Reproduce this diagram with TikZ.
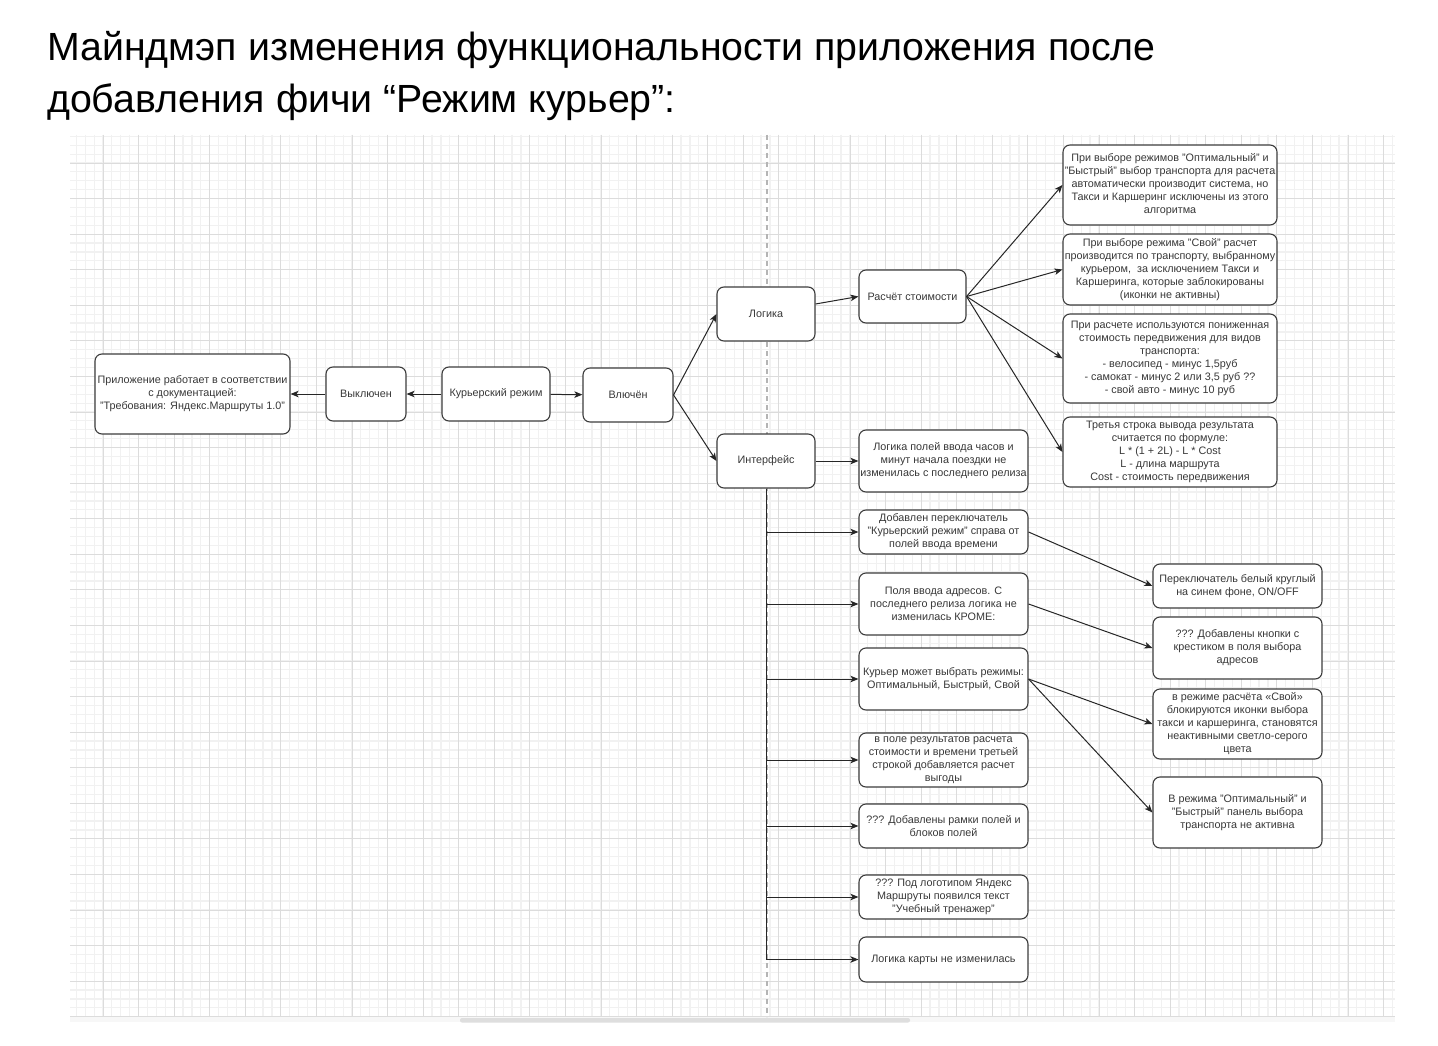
\documentclass[tikz,border=0pt]{standalone}
\usepackage{fontspec}
\setmainfont{Liberation Sans}
\usetikzlibrary{arrows.meta}
\definecolor{gridmajor}{HTML}{DCDCDC}
\definecolor{gridminor}{HTML}{F1F1F1}
\definecolor{boxline}{HTML}{3C3C3C}
\definecolor{boxtext}{HTML}{383838}
\definecolor{dashgray}{HTML}{B4B4B4}
\definecolor{barback}{HTML}{F7F7F7}
\definecolor{bar}{HTML}{DEDEDE}
\begin{document}
\begin{tikzpicture}[x=1pt,y=-1pt,
  box/.style={draw=boxline, line width=1.1pt, rounded corners=7pt, fill=white,
    align=center, inner sep=0pt, text=boxtext,
    font=\fontsize{10.8}{13}\selectfont},
  link/.style={draw=black!85, line width=1pt, -{Stealth[length=8pt,width=6.5pt,inset=2pt]}},
  trunk/.style={draw=black!85, line width=1pt}]

\useasboundingbox (0,0) rectangle (1438,1046);
\fill[white] (0,0) rectangle (1438,1046);

% title
\node[anchor=base west, inner sep=0pt, font=\fontsize{39.3}{46}\selectfont] (title1) at (47,61)
  {Майндмэп изменения функциональности приложения после};
\node[anchor=base west, inner sep=0pt, font=\fontsize{39.3}{46}\selectfont] (title2) at (47,113)
  {добавления фичи “Режим курьер”:};

% grid paper
\fill[barback] (70,1017) rectangle (1395,1022);
\begin{scope}
  \clip (70,135) rectangle (1395,1017);
  \foreach \i in {0,...,150} {
    \draw[gridminor, line width=1.2pt] ({67.43+\i*8.8925},135) -- ({67.43+\i*8.8925},1017);
  }
  \foreach \i in {0,...,101} {
    \draw[gridminor, line width=1.2pt] (70,{127.43+\i*8.8925}) -- (1395,{127.43+\i*8.8925});
  }
  \foreach \i in {0,...,38} {
    \draw[gridmajor, line width=0.9pt] ({67.43+\i*35.57},135) -- ({67.43+\i*35.57},1017);
  }
  \foreach \i in {0,...,26} {
    \draw[gridmajor, line width=0.9pt] (70,{127.43+\i*35.57}) -- (1395,{127.43+\i*35.57});
  }
\end{scope}
\fill[bar, rounded corners=2pt] (460,1018) rectangle (910,1022.5);

% page divider
\draw[dashgray, line width=1.1pt, dash pattern=on 5pt off 4pt] (767,135) -- (767,1017);

% main chain
\node[box, minimum width=195pt, minimum height=80pt] (app) at (192.5,394)
  {Приложение работает в соответствии\\ с документацией:\\ "Требования: Яндекс.Маршруты 1.0"};
\node[box, minimum width=80pt, minimum height=54pt] (off) at (366,394) {Выключен};
\node[box, minimum width=108pt, minimum height=54pt] (courier) at (496,394) {Курьерский режим};
\node[box, minimum width=90pt, minimum height=54pt] (on) at (628,395) {Влючён};
\node[box, minimum width=98pt, minimum height=54pt] (logic) at (766,314) {Логика};
\node[box, minimum width=98pt, minimum height=54pt] (ui) at (766,461) {Интерфейс};
\node[box, minimum width=107pt, minimum height=53pt] (calc) at (912.5,296.5) {Расчёт стоимости};
\node[box, minimum width=169pt, minimum height=62pt] (hours) at (943.5,461)
  {Логика полей ввода часов и\\ минут начала поездки не\\ изменилась с последнего релиза};

% cost calculation notes
\node[box, minimum width=214pt, minimum height=80pt] (r1) at (1170,185)
  {При выборе режимов "Оптимальный" и\\ "Быстрый" выбор транспорта для расчета\\ автоматически производит система, но\\ Такси и Каршеринг исключены из этого\\ алгоритма};
\node[box, minimum width=214pt, minimum height=71pt] (r2) at (1170,269.5)
  {При выборе режима "Свой" расчет\\ производится по транспорту, выбранному\\ курьером,\ \ за исключением Такси и\\ Каршеринга, которые заблокированы\\ (иконки не активны)};
\node[box, minimum width=214pt, minimum height=89pt] (r3) at (1170,358.5)
  {При расчете используются пониженная\\ стоимость передвижения для видов\\ транспорта:\\ - велосипед - минус 1,5руб\\ - самокат - минус 2 или 3,5 руб ??\\ - свой авто - минус 10 руб};
\node[box, minimum width=214pt, minimum height=70pt] (r4) at (1170,452)
  {Третья строка вывода результата\\ считается по формуле:\\ L * (1 + 2L) - L * Cost\\ L - длина маршрута\\ Cost - стоимость передвижения};

% interface notes
\node[box, minimum width=169pt, minimum height=44pt] (i1) at (943.5,532)
  {Добавлен переключатель\\ "Курьерский режим" справа от\\ полей ввода времени};
\node[box, minimum width=169pt, minimum height=62pt] (i2) at (943.5,604)
  {Поля ввода адресов. С\\ последнего релиза логика не\\ изменилась КРОМЕ:};
\node[box, minimum width=169pt, minimum height=62pt] (i3) at (943.5,679)
  {Курьер может выбрать режимы:\\ Оптимальный, Быстрый, Свой};
\node[box, minimum width=169pt, minimum height=54pt] (i4) at (943.5,760)
  {в поле результатов расчета\\ стоимости и времени третьей\\ строкой добавляется расчет\\ выгоды};
\node[box, minimum width=169pt, minimum height=44pt] (i5) at (943.5,826)
  {??? Добавлены рамки полей и\\ блоков полей};
\node[box, minimum width=169pt, minimum height=44pt] (i6) at (943.5,897)
  {??? Под логотипом Яндекс\\ Маршруты появился текст\\ "Учебный тренажер"};
\node[box, minimum width=169pt, minimum height=45pt] (i7) at (943.5,959.5)
  {Логика карты не изменилась};

% sub-notes
\node[box, minimum width=169pt, minimum height=44pt] (s1) at (1237.5,586)
  {Переключатель белый круглый\\ на синем фоне, ON/OFF};
\node[box, minimum width=169pt, minimum height=62pt] (s2) at (1237.5,648)
  {??? Добавлены кнопки с\\ крестиком в поля выбора\\ адресов};
\node[box, minimum width=169pt, minimum height=70pt] (s3) at (1237.5,724)
  {в режиме расчёта «Свой»\\ блокируются иконки выбора\\ такси и каршеринга, становятся\\ неактивными светло-серого\\ цвета};
\node[box, minimum width=169pt, minimum height=71pt] (s4) at (1237.5,812.5)
  {В режима "Оптимальный" и\\ "Быстрый" панель выбора\\ транспорта не активна};

% connectors
\draw[link] (courier) -- (off);
\draw[link] (off) -- (app);
\draw[link] (courier) -- (on);
\draw[link] (on.east) -- (logic.west);
\draw[link] (on.east) -- (ui.west);
\draw[link] ([yshift=10pt]logic.east) -- (calc.west);
\draw[link] (ui) -- (hours);
\foreach \r in {r1,r2,r3,r4} { \draw[link] (calc.east) -- (\r.west); }

\coordinate (tend) at (ui.south |- i7.west);
\draw[trunk] (ui.south) -- (tend);
\foreach \n in {i1,i2,i3,i4,i5,i6,i7} { \draw[link] (ui.south |- \n.west) -- (\n.west); }

\draw[link] (i1.east) -- (s1.west);
\draw[link] (i2.east) -- (s2.west);
\draw[link] (i3.east) -- (s3.west);
\draw[link] (i3.east) -- (s4.west);
\end{tikzpicture}
\end{document}
